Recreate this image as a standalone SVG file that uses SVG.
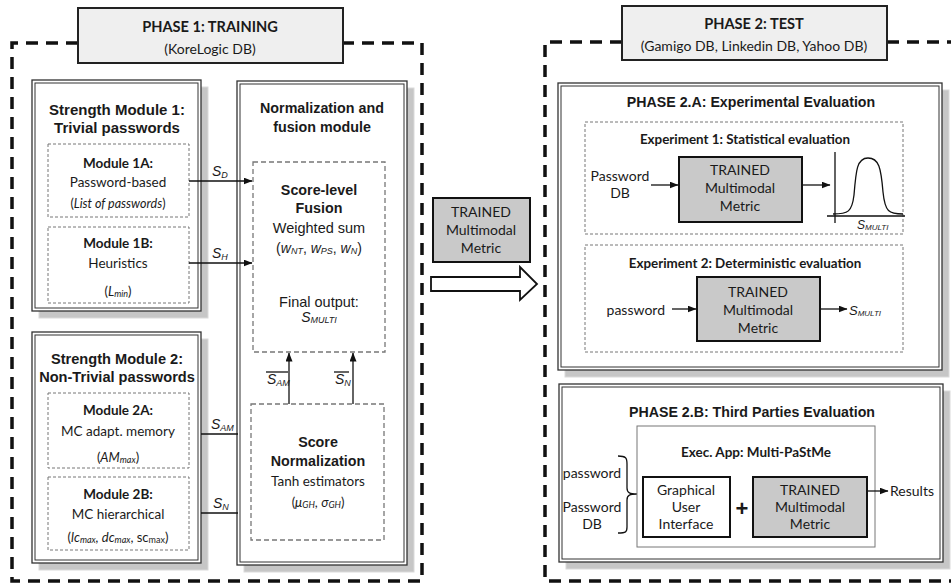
<svg xmlns="http://www.w3.org/2000/svg" width="951" height="585" viewBox="0 0 951 585">
<style>
.ar{font-family:"Liberation Sans",Arial,sans-serif;fill:#1a1a1a}
.ca{font-family:Lato,"Open Sans",sans-serif;fill:#1a1a1a}
.b{font-weight:bold}
.it{font-style:italic}
.t{text-anchor:middle}
.frame{fill:none;stroke:#111;stroke-width:3.5;stroke-dasharray:12 8}
.hdr{fill:#efefef;stroke:#222;stroke-width:2}
.shadow{fill:#c6c6c6;stroke:#dadada;stroke-width:1}
.outer{fill:#fff;stroke:#333;stroke-width:1.3}
.inner{fill:none;stroke:#333;stroke-width:1}
.dbox{fill:none;stroke:#777;stroke-width:1;stroke-dasharray:3 2}
.dbox2{fill:none;stroke:#777;stroke-width:1.3;stroke-dasharray:5 3}
.gbox{fill:#c9c9c9;stroke:#111;stroke-width:2}
.wbox{fill:#fff;stroke:#111;stroke-width:2}
.ln{fill:none;stroke:#111;stroke-width:1.3}
</style>
<defs>
<marker id="ah" markerWidth="9" markerHeight="7" refX="8.5" refY="3.5" orient="auto" markerUnits="userSpaceOnUse">
<path d="M0,0 L9,3.5 L0,7 z" fill="#111"/>
</marker>
</defs>

<!-- Phase frames -->
<g id="phase1-frame">
<path class="frame" d="M78,43 H12 V581 H422 V43 H343"/>
<rect class="hdr" x="78" y="8" width="265" height="55"/>
<text class="ca b t" x="210" y="32" font-size="14.6">PHASE 1: TRAINING</text>
<text class="ca t" x="210" y="54" font-size="14">(KoreLogic DB)</text>
</g>
<g id="phase2-frame">
<path class="frame" d="M622,42 H545 V581 H951"/>
<path class="frame" d="M887,42 H951"/>
<rect class="hdr" x="622" y="6" width="265" height="54"/>
<text class="ca b t" x="754" y="29" font-size="14.6">PHASE 2: TEST</text>
<text class="ca t" x="754" y="51" font-size="14">(Gamigo DB, Linkedin DB, Yahoo DB)</text>
</g>

<!-- Strength Module 1 -->
<g id="strength1">
<rect class="shadow" x="39" y="87" width="169" height="231"/>
<rect class="outer" x="32" y="80" width="169" height="231"/>
<rect class="inner" x="35" y="83" width="163" height="225"/>
<text class="ar b t" x="117" y="115" font-size="15">Strength Module 1:</text>
<text class="ar b t" x="117" y="133" font-size="15">Trivial passwords</text>
</g>
<g id="module1a">
<rect class="dbox" x="48" y="144" width="141" height="73"/>
<text class="ca b t" x="118" y="168" font-size="13.5">Module 1A:</text>
<text class="ca t" x="118" y="187" font-size="13.5">Password-based</text>
<text class="ca t" x="118" y="208" font-size="12.5">(<tspan class="it">List of passwords</tspan>)</text>
</g>
<g id="module1b">
<rect class="dbox" x="48" y="227" width="141" height="76"/>
<text class="ca b t" x="118" y="248" font-size="13.5">Module 1B:</text>
<text class="ca t" x="118" y="268" font-size="13.5">Heuristics</text>
<text class="ca t" x="118" y="296" font-size="13">(<tspan class="it">L<tspan font-size="9" dy="1">min</tspan></tspan><tspan dy="-1">)</tspan></text>
</g>

<!-- Strength Module 2 -->
<g id="strength2">
<rect class="shadow" x="39" y="339" width="169" height="231"/>
<rect class="outer" x="32" y="332" width="169" height="231"/>
<rect class="inner" x="35" y="335" width="163" height="225"/>
<text class="ar b t" x="117" y="364" font-size="14.6">Strength Module 2:</text>
<text class="ar b t" x="117" y="382" font-size="14.6">Non-Trivial passwords</text>
</g>
<g id="module2a">
<rect class="dbox" x="48" y="393" width="141" height="75"/>
<text class="ca b t" x="118" y="415" font-size="13.5">Module 2A:</text>
<text class="ca t" x="118" y="436" font-size="13.5">MC adapt. memory</text>
<text class="ca t" x="118" y="462" font-size="13">(<tspan class="it">AM<tspan font-size="9" dy="1">max</tspan></tspan><tspan dy="-1">)</tspan></text>
</g>
<g id="module2b">
<rect class="dbox" x="48" y="477" width="141" height="73"/>
<text class="ca b t" x="118" y="499" font-size="13.5">Module 2B:</text>
<text class="ca t" x="118" y="519" font-size="13.5">MC hierarchical</text>
<text class="ca t" x="118" y="542" font-size="13">(<tspan class="it">lc<tspan font-size="9" dy="1">max</tspan><tspan dy="-1">, dc</tspan><tspan font-size="9" dy="1">max</tspan></tspan><tspan dy="-1">, sc</tspan><tspan font-size="9" dy="1">max</tspan><tspan dy="-1">)</tspan></text>
</g>

<!-- Normalization and fusion module -->
<g id="norm-fusion">
<rect class="shadow" x="244" y="88" width="170" height="484"/>
<rect class="outer" x="237" y="81" width="170" height="484"/>
<rect class="inner" x="240" y="84" width="164" height="478"/>
<text class="ar b t" x="322" y="113" font-size="14.3">Normalization and</text>
<text class="ar b t" x="322" y="132" font-size="14.3">fusion module</text>
</g>
<g id="score-fusion">
<rect class="dbox2" x="253" y="162" width="132" height="190"/>
<text class="ar b t" x="319" y="195" font-size="14.3">Score-level</text>
<text class="ar b t" x="319" y="213" font-size="14.3">Fusion</text>
<text class="ar t" x="319" y="233" font-size="14.5">Weighted sum</text>
<text class="ar t" x="319" y="253" font-size="14">(<tspan class="it">w<tspan font-size="9" dy="1">NT</tspan></tspan><tspan dy="-1">, </tspan><tspan class="it">w<tspan font-size="9" dy="1">PS</tspan></tspan><tspan dy="-1">, </tspan><tspan class="it">w<tspan font-size="9" dy="1">N</tspan></tspan><tspan dy="-1">)</tspan></text>
<text class="ar t" x="319" y="307" font-size="14.5">Final output:</text>
<text class="ar t it" x="319" y="322" font-size="14">S<tspan font-size="9" dy="1">MULTI</tspan></text>
</g>
<g id="score-norm">
<rect class="dbox2" x="251" y="404" width="133" height="136"/>
<text class="ar b t" x="318" y="447" font-size="14.3">Score</text>
<text class="ar b t" x="318" y="466" font-size="14.3">Normalization</text>
<text class="ca t" x="318" y="486" font-size="13.5">Tanh estimators</text>
<text class="ca t" x="318" y="507" font-size="13">(<tspan class="it">μ<tspan font-size="9" dy="1">GH</tspan></tspan><tspan dy="-1">, </tspan><tspan class="it">σ<tspan font-size="9" dy="1">GH</tspan></tspan><tspan dy="-1">)</tspan></text>
</g>

<!-- Middle -->
<g id="trained-transfer">
<rect class="gbox" x="433" y="198" width="97" height="64" stroke-width="1.8"/>
<text class="ca t" x="481" y="217" font-size="14">TRAINED</text>
<text class="ca t" x="481" y="235" font-size="14">Multimodal</text>
<text class="ca t" x="481" y="253" font-size="14">Metric</text>
</g>
<g id="big-arrow">
<path d="M431,277 H520 V267 L537,284 L520,300 V291 H431 Z" fill="#fff" stroke="#111" stroke-width="1.8"/>
</g>

<!-- Phase 2.A -->
<g id="phase2a">
<rect class="shadow" x="565" y="90" width="384" height="287"/>
<rect class="outer" x="558" y="83" width="384" height="287"/>
<rect class="inner" x="561" y="86" width="378" height="281"/>
<text class="ar b t" x="751" y="107" font-size="14.2">PHASE 2.A: Experimental Evaluation</text>
</g>
<g id="experiment1">
<rect class="dbox" x="585" y="122" width="318" height="112"/>
<text class="ca b t" x="745" y="144" font-size="13.4">Experiment 1: Statistical evaluation</text>
<text class="ca t" x="620" y="181" font-size="14">Password</text>
<text class="ca t" x="620" y="198" font-size="14">DB</text>
<rect class="gbox" x="679" y="157" width="123" height="65"/>
<text class="ca t" x="740" y="175" font-size="14">TRAINED</text>
<text class="ca t" x="740" y="193" font-size="14">Multimodal</text>
<text class="ca t" x="740" y="211" font-size="14">Metric</text>
<path class="ln" d="M835,152 V223 M827,216 H905"/>
<path class="ln" d="M833,214 C848,214 852,212 854,195 C856,170 857,158 868,158 C879,158 881,168 883,192 C885,212 889,214 903,214"/>
<text class="ar it" x="857" y="229" font-size="12">S<tspan font-size="8" dy="1">MULTI</tspan></text>
</g>
<g id="experiment2">
<rect class="dbox" x="585" y="245" width="318" height="107"/>
<text class="ca b t" x="745" y="268" font-size="13.4">Experiment 2: Deterministic evaluation</text>
<text class="ca" x="665" y="315" font-size="14" text-anchor="end">password</text>
<rect class="gbox" x="697" y="277" width="123" height="64"/>
<text class="ca t" x="758" y="297" font-size="14">TRAINED</text>
<text class="ca t" x="758" y="315" font-size="14">Multimodal</text>
<text class="ca t" x="758" y="333" font-size="14">Metric</text>
<text class="ar it" x="849" y="315" font-size="13">S<tspan font-size="8" dy="1">MULTI</tspan></text>
</g>

<!-- Phase 2.B -->
<g id="phase2b">
<rect class="shadow" x="566" y="391" width="384" height="178"/>
<rect class="outer" x="559" y="384" width="384" height="178"/>
<rect class="inner" x="562" y="387" width="378" height="172"/>
<text class="ar b t" x="752" y="417" font-size="14.2">PHASE 2.B: Third Parties Evaluation</text>
<text class="ca t" x="592" y="478" font-size="14">password</text>
<text class="ca t" x="592" y="512" font-size="14">Password</text>
<text class="ca t" x="592" y="529" font-size="14">DB</text>
<path class="ln" d="M618,456 C626,456 627,458 627,464 V488 C627,493 630,494 637,494 C630,494 627,495 627,500 V527 C627,532 626,533 618,533"/>
</g>
<g id="exec-app">
<rect x="637" y="426" width="238" height="121" fill="#fff" stroke="#777" stroke-width="1"/>
<text class="ca b t" x="756" y="457" font-size="13.5">Exec. App: Multi-PaStMe</text>
</g>
<g id="gui">
<rect class="wbox" x="643" y="477" width="87" height="60"/>
<text class="ca t" x="686" y="495" font-size="14">Graphical</text>
<text class="ca t" x="686" y="512" font-size="14">User</text>
<text class="ca t" x="686" y="529" font-size="14">Interface</text>
</g>
<text class="ar b t" x="742" y="516" font-size="22">+</text>
<g id="trained-app">
<rect class="gbox" x="753" y="477" width="114" height="60"/>
<text class="ca t" x="810" y="495" font-size="14">TRAINED</text>
<text class="ca t" x="810" y="512" font-size="14">Multimodal</text>
<text class="ca t" x="810" y="529" font-size="14">Metric</text>
</g>
<text class="ca" x="890" y="496" font-size="14">Results</text>

<!-- Connectors -->
<g id="connectors">
<path class="ln" d="M189,181 H252" marker-end="url(#ah)"/>
<path class="ln" d="M189,263 H252" marker-end="url(#ah)"/>
<path class="ln" d="M201,434 H238"/>
<path class="ln" d="M201,513 H238"/>
<path class="ln" d="M289,404 V353" marker-end="url(#ah)"/>
<path class="ln" d="M353,404 V353" marker-end="url(#ah)"/>
<path class="ln" d="M651,185 H678" marker-end="url(#ah)"/>
<path class="ln" d="M802,185 H830" marker-end="url(#ah)"/>
<path class="ln" d="M672,309 H696" marker-end="url(#ah)"/>
<path class="ln" d="M820,309 H847" marker-end="url(#ah)"/>
<path class="ln" d="M867,491 H888" marker-end="url(#ah)"/>
</g>
<g id="connector-labels">
<text class="ar it" x="212" y="176" font-size="14">S<tspan font-size="9" dy="2">D</tspan></text>
<text class="ar it" x="212" y="258" font-size="14">S<tspan font-size="9" dy="2">H</tspan></text>
<text class="ar it" x="211" y="429" font-size="14">S<tspan font-size="9" dy="2">AM</tspan></text>
<text class="ar it" x="213" y="508" font-size="14">S<tspan font-size="9" dy="2">N</tspan></text>
<text class="ar it" x="267" y="384" font-size="14">S<tspan font-size="9" dy="2">AM</tspan></text>
<path class="ln" d="M266,372 H288" stroke-width="1"/>
<text class="ar it" x="335" y="384" font-size="14">S<tspan font-size="9" dy="2">N</tspan></text>
<path class="ln" d="M334,372 H349" stroke-width="1"/>
</g>
</svg>
